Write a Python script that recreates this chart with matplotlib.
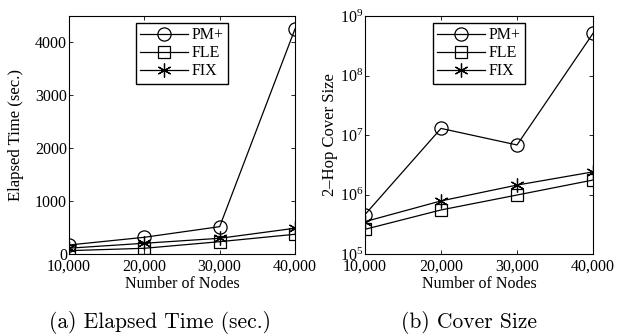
import numpy as np
import matplotlib.pyplot as plt

nodes = [10000, 20000, 30000, 40000]
node_labels = ['10,000', '20,000', '30,000', '40,000']

# elapsed time (sec.)
time_pm = [170, 316, 517, 4255]
time_fle = [63, 108, 233, 373]
time_fix = [110, 203, 297, 487]

# 2-hop cover size
size_pm = [4.6e5, 1.29e7, 6.8e6, 5.1e8]
size_fle = [2.6e5, 5.5e5, 9.8e5, 1.75e6]
size_fix = [3.5e5, 7.8e5, 1.44e6, 2.4e6]

plt.rcParams['font.family'] = ['Liberation Serif', 'DejaVu Serif']
plt.rcParams['mathtext.fontset'] = 'stix'

fig = plt.figure(figsize=(6.27, 3.35), dpi=100)
W, H = 627, 335
ax1 = fig.add_axes([69 / W, 1 - 254 / H, 226 / W, 238 / H])
ax2 = fig.add_axes([365 / W, 1 - 254 / H, 228 / W, 238 / H])

style = dict(color='black', lw=0.9, mfc='none', mec='black', mew=0.9)


def draw(ax, pm, fle, fix):
    ax.plot(nodes, pm, marker='o', ms=9.5, label='PM+', **style)
    ax.plot(nodes, fle, marker='s', ms=8, label='FLE', **style)
    ax.plot(nodes, fix, marker=(6, 2, 0), ms=10, label='FIX', **style)
    ax.set_xlim(10000, 40000)
    ax.set_xticks(nodes)
    ax.set_xticklabels(node_labels)
    ax.set_xlabel('Number of Nodes', fontsize=11.5, labelpad=1)
    ax.tick_params(direction='in', top=True, right=True, labelsize=11.5,
                   length=3, width=0.6, pad=1.5)
    ax.tick_params(axis='x', pad=3.5)
    for s in ax.spines.values():
        s.set_linewidth(0.8)
    leg = ax.legend(loc='upper center', bbox_to_anchor=(0.5, 0.972), fontsize=11.5,
                    handlelength=3.0, handletextpad=0.2, borderpad=0.3,
                    labelspacing=0.12, fancybox=False, framealpha=1,
                    borderaxespad=0)
    leg.get_frame().set_edgecolor('black')
    leg.get_frame().set_linewidth(1.0)


draw(ax1, time_pm, time_fle, time_fix)
ax1.set_ylim(0, 4500)
ax1.set_yticks([0, 1000, 2000, 3000, 4000])
ax1.set_ylabel('Elapsed Time (sec.)', fontsize=12, labelpad=8)

draw(ax2, size_pm, size_fle, size_fix)
ax2.set_yscale('log')
ax2.set_ylim(1e5, 1e9)
ax2.set_yticks([1e5, 1e6, 1e7, 1e8, 1e9])
ax2.yaxis.set_minor_locator(plt.NullLocator())
ax2.set_ylabel('2\u2013Hop Cover Size', fontsize=12, labelpad=1)

fig.text(160 / W, 1 - 322 / H, '(a) Elapsed Time (sec.)', family='cmr10',
         fontsize=15.5, ha='center', va='center')
fig.text(469 / W, 1 - 322 / H, '(b) Cover Size', family='cmr10',
         fontsize=15.5, ha='center', va='center')

fig.savefig('out.png', dpi=100)
